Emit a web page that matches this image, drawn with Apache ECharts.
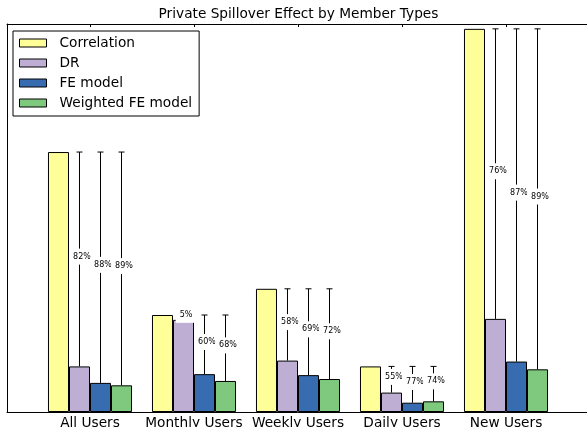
<!DOCTYPE html>
<html>
<head>
<meta charset="utf-8">
<script src="https://cdn.jsdelivr.net/npm/echarts@6/dist/echarts.min.js"></script>
<style>html,body{margin:0;padding:0;background:#fff}#c{width:587px;height:427px}</style>
</head>
<body>
<div id="c"></div>
<script>
const categories = ['All Users', 'Monthly Users', 'Weekly Users', 'Daily Users', 'New Users'];
const seriesNames = ['Correlation', 'DR', 'FE model', 'Weighted FE model'];
const correlation = [0.268, 0.100, 0.127, 0.047, 0.395];
const dr = [0.047, 0.095, 0.053, 0.020, 0.096];
const feModel = [0.030, 0.039, 0.038, 0.0096, 0.052];
const weightedFe = [0.0275, 0.032, 0.034, 0.011, 0.044];
const drLabels = ['82%', '5%', '58%', '55%', '76%'];
const feLabels = ['88%', '60%', '69%', '77%', '87%'];
const wfeLabels = ['89%', '68%', '72%', '74%', '89%'];
const yMax = 0.4;

const colors = ['#ffff99', '#beaed4', '#386cb0', '#7fc97f'];
const FONT = 'DejaVu Sans';
const groupFrac = 0.808;

const errData = [];
[[dr, drLabels], [feModel, feLabels], [weightedFe, wfeLabels]].forEach(function (pair, k) {
  pair[0].forEach(function (v, i) {
    errData.push([i, v, correlation[i], pair[1][i], k + 1]);
  });
});

const chart = echarts.init(document.getElementById('c'), null, {renderer: 'canvas'});
const barSeries = [correlation, dr, feModel, weightedFe].map(function (arr, s) {
  return {
    name: seriesNames[s], type: 'bar', xAxisIndex: 1, yAxisIndex: 1,
    data: arr, barGap: '0%', barCategoryGap: ((1 - groupFrac) * 100) + '%',
    itemStyle: {color: colors[s], borderColor: '#000', borderWidth: 1},
    emphasis: {disabled: true}, animation: false, z: 2
  };
});

chart.setOption({
  animation: false,
  title: {
    text: 'Private Spillover Effect by Member Types',
    left: 298.5, top: 7, padding: 0, textAlign: 'center',
    textStyle: {fontFamily: FONT, fontSize: 13.7, fontWeight: 'normal', color: '#000'}
  },
  legend: {
    orient: 'vertical', left: 13, top: 31,
    data: seriesNames,
    itemWidth: 27, itemHeight: 8, itemGap: 6,
    padding: [5, 7, 6, 6],
    borderColor: '#000', borderWidth: 1, backgroundColor: '#fff',
    icon: 'rect',
    itemStyle: {borderWidth: 1, borderColor: '#000'},
    textStyle: {fontFamily: FONT, fontSize: 13.7, color: '#000', lineHeight: 14, padding: [0, 0, 0, 8]},
    selectedMode: false
  },
  grid: [
    {left: 7, right: -3, top: 24, bottom: 15, outerBoundsMode: 'none', containLabel: false},
    {left: 38, right: 29, top: 24, bottom: 15, outerBoundsMode: 'none', containLabel: false}
  ],
  xAxis: [
    {gridIndex: 0, type: 'value', min: 0, max: 1, position: 'bottom',
      axisLine: {show: true, onZero: false, lineStyle: {color: '#000', width: 1}},
      axisTick: {show: false}, axisLabel: {show: false}, splitLine: {show: false}},
    {gridIndex: 1, type: 'category', data: categories, position: 'bottom',
      axisLine: {show: false}, axisTick: {show: false},
      axisLabel: {fontFamily: FONT, fontSize: 13.7, color: '#000', margin: 4, interval: 0}},
    {gridIndex: 1, type: 'category', data: categories, position: 'top',
      axisLine: {show: false},
      axisTick: {show: true, inside: true, length: 3, alignWithLabel: true, interval: 0, lineStyle: {color: '#000'}},
      axisLabel: {show: false}},
    {gridIndex: 0, type: 'value', min: 0, max: 1, position: 'top',
      axisLine: {show: true, onZero: false, lineStyle: {color: '#000', width: 1}},
      axisTick: {show: false}, axisLabel: {show: false}, splitLine: {show: false}}
  ],
  yAxis: [
    {gridIndex: 0, type: 'value', min: 0, max: 1,
      axisLine: {show: true, onZero: false, lineStyle: {color: '#000', width: 1}},
      axisTick: {show: false}, axisLabel: {show: false}, splitLine: {show: false}},
    {gridIndex: 1, type: 'value', min: 0, max: yMax,
      axisLine: {show: false}, axisTick: {show: false}, axisLabel: {show: false}, splitLine: {show: false}}
  ],
  series: barSeries.concat([{
    type: 'custom', xAxisIndex: 1, yAxisIndex: 1, z: 5, silent: true,
    data: errData,
    encode: {x: 0, y: [1, 2]},
    renderItem: function (params, api) {
      const bw = api.size([1, 0])[0];
      const barW = bw * groupFrac / 4;
      const k = api.value(4);
      const lo = api.coord([api.value(0), api.value(1)]);
      const hi = api.coord([api.value(0), api.value(2)]);
      const x = lo[0] + (k - 1.5) * barW;
      const cap = 3;
      const midY = (lo[1] + hi[1]) / 2;
      return {
        type: 'group',
        children: [
          {type: 'line', shape: {x1: x, y1: lo[1], x2: x, y2: hi[1]}, style: {stroke: '#000', lineWidth: 1}},
          {type: 'line', shape: {x1: x - cap, y1: hi[1], x2: x + cap, y2: hi[1]}, style: {stroke: '#000', lineWidth: 1}},
          {type: 'text', x: x + 2.5, y: midY - 2.6, style: {
            text: errData[params.dataIndex][3], fill: '#000', font: '8px "DejaVu Sans"',
            align: 'center', verticalAlign: 'middle', backgroundColor: '#fff', padding: [4, 4, 4, 4]
          }}
        ]
      };
    }
  }])
});
</script>
</body>
</html>
